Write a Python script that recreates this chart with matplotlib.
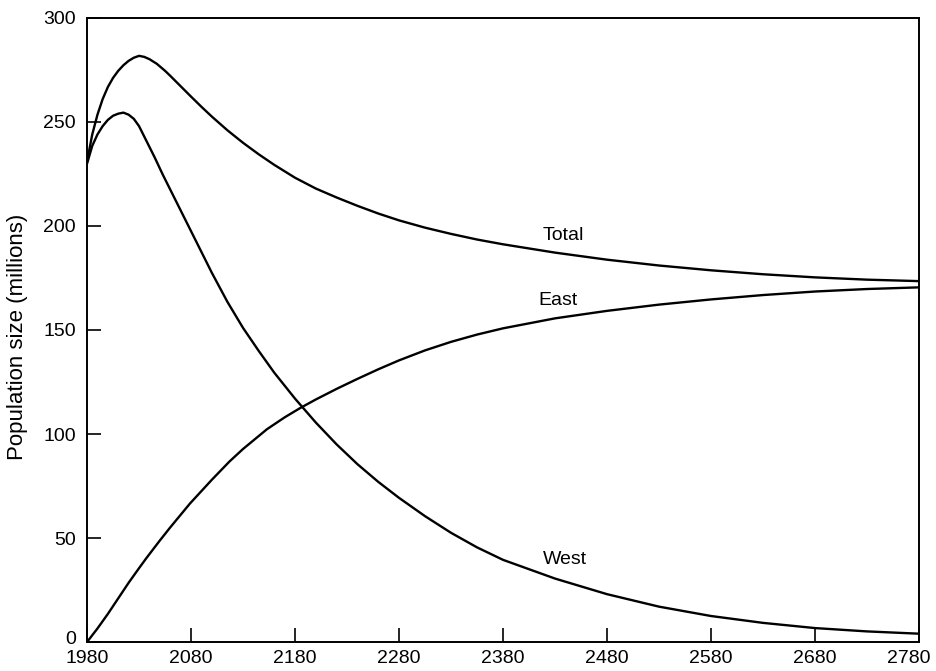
import matplotlib
matplotlib.use("Agg")
import matplotlib.pyplot as plt
from matplotlib.transforms import ScaledTranslation

# values (millions)
total_years = [1980, 1985, 1990, 1995, 2000, 2005, 2010, 2015, 2020, 2025,
               2030, 2035, 2040, 2047, 2055, 2060, 2069, 2080, 2090, 2100,
               2115, 2130, 2145, 2160, 2180, 2200, 2220, 2240, 2260, 2280,
               2305, 2330, 2355, 2380, 2430, 2480, 2530, 2580, 2630, 2680,
               2730, 2780]
total = [231, 244, 253.5, 261, 266.8, 271.2, 274.6, 277.3, 279.4, 280.9,
         281.8, 281.3, 280.2, 278, 274.6, 272.2, 267.7, 262.2, 257.3, 252.6,
         246, 240, 234.5, 229.4, 223.2, 218, 213.7, 209.7, 206, 202.7,
         199.2, 196.2, 193.5, 191.2, 187.2, 183.8, 181, 178.7, 176.8, 175.3,
         174.2, 173.5]

west_years = [1980, 1985, 1990, 1995, 2000, 2005, 2010, 2015, 2020, 2025,
              2030, 2037, 2045, 2053, 2060, 2069, 2080, 2090, 2100, 2115,
              2130, 2145, 2160, 2180, 2200, 2220, 2240, 2260, 2280, 2305,
              2330, 2355, 2380, 2430, 2480, 2530, 2580, 2630, 2680, 2730,
              2780]
west = [230, 238.5, 244, 248, 251, 253, 254, 254.5, 253.5, 251.5,
        248, 241, 233, 224.5, 217.5, 208.5, 197.5, 187.5, 177.5, 163.5,
        151, 140, 129.5, 117, 105.5, 95, 85.5, 77, 69.3, 60.5,
        52.5, 45.5, 39.5, 30.5, 23, 17, 12.5, 9.2, 6.7, 5.1,
        4]

east_years = [1980, 1990, 2000, 2010, 2020, 2030, 2037, 2050, 2060, 2079,
              2100, 2117, 2130, 2153, 2170, 2185, 2200, 2220, 2240, 2260,
              2280, 2305, 2330, 2355, 2380, 2430, 2480, 2530, 2580, 2630,
              2680, 2730, 2780]
east = [0, 6.5, 13.5, 21, 28.5, 35.5, 40.3, 48.8, 55.1, 66.6,
        78, 86.8, 92.8, 102.3, 108, 112.5, 116.6, 121.7, 126.5, 131.1,
        135.4, 140.2, 144.3, 147.8, 150.8, 155.6, 159.2, 162.2, 164.7, 166.8,
        168.5, 169.7, 170.5]

xticks = list(range(1980, 2781, 100))
yticks = list(range(0, 301, 50))

plt.rcParams["font.family"] = ["Liberation Sans", "DejaVu Sans"]

fig = plt.figure(figsize=(9.37, 6.71), dpi=100)
ax = fig.add_axes([0.0929, 0.0432, 0.8879, 0.93])

ax.plot(total_years, total, color="black", lw=1.7, solid_joinstyle="round")
ax.plot(west_years, west, color="black", lw=1.7, solid_joinstyle="round")
ax.plot(east_years, east, color="black", lw=1.7, solid_joinstyle="round")

ax.text(2438, 195.5, "Total", ha="center", va="center", fontsize=14)
ax.text(2433, 164, "East", ha="center", va="center", fontsize=14)
ax.text(2440, 39.5, "West", ha="center", va="center", fontsize=14)

ax.set_xlim(1980, 2780)
ax.set_ylim(0, 300)
ax.set_xticks(xticks)
ax.set_yticks(yticks)
ax.tick_params(direction="in", length=10, width=1.2, labelsize=14)
ax.tick_params(axis="x", pad=6)
ax.tick_params(axis="y", pad=8)
for sp in ax.spines.values():
    sp.set_linewidth(1.4)

# last year label sits a little left of the corner in the original,
# the zero label a little above the axis line
last = ax.get_xticklabels()[-1]
last.set_transform(last.get_transform() +
                   ScaledTranslation(-10 / 100, 0, fig.dpi_scale_trans))
zero = ax.get_yticklabels()[0]
zero.set_transform(zero.get_transform() +
                   ScaledTranslation(0, 5 / 100, fig.dpi_scale_trans))

fig.text(0.0187, 0.498, "Population size (millions)", rotation=90,
         ha="center", va="center", fontsize=16)

fig.savefig("out.png", dpi=100)
